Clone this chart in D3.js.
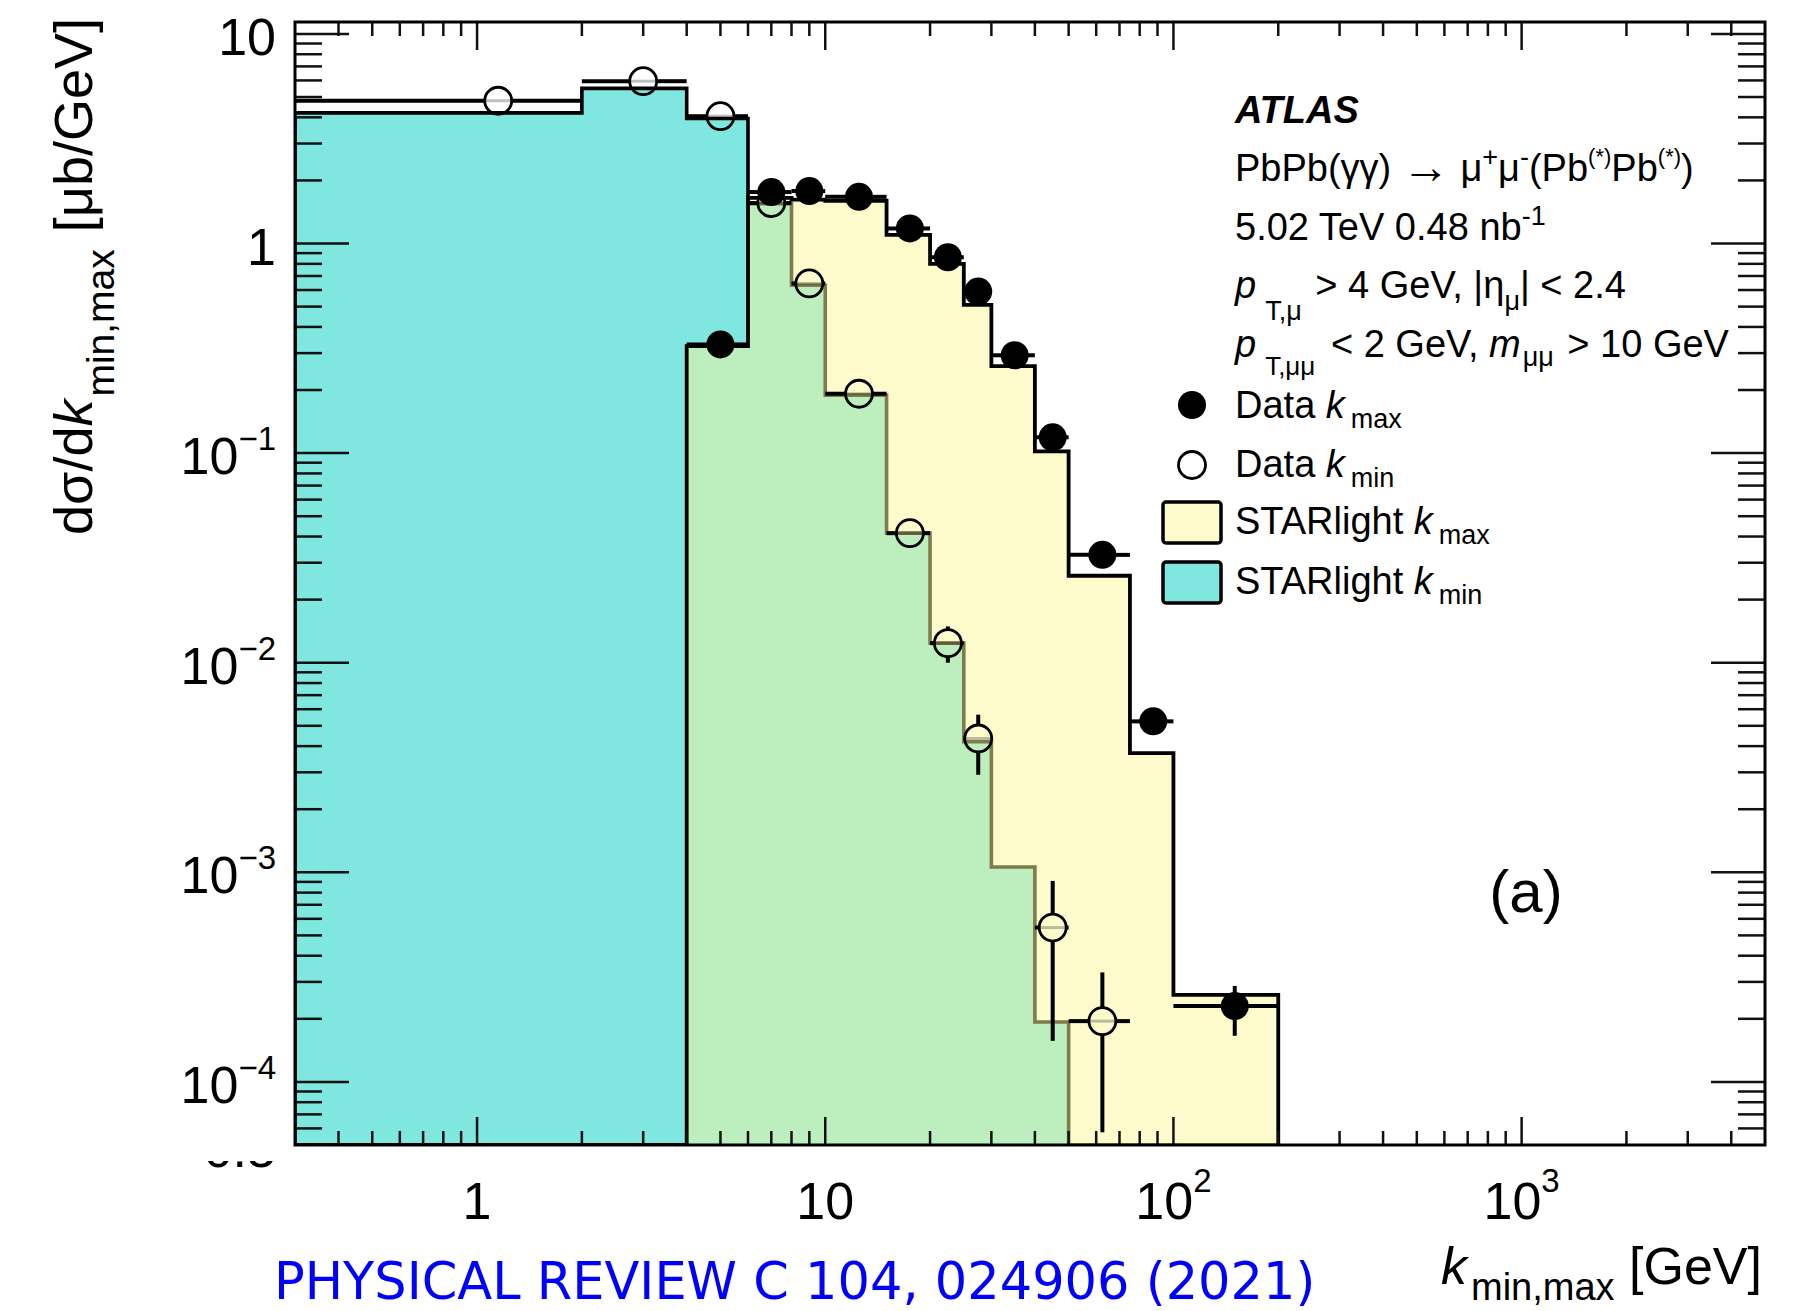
<!DOCTYPE html>
<html>
<head>
<meta charset="utf-8">
<title>dσ/dk_min,max</title>
<script src="https://cdn.jsdelivr.net/npm/d3@7/dist/d3.min.js"></script>
<style>
  html, body { margin: 0; padding: 0; background: #ffffff; }
  svg { display: block; }
</style>
</head>
<body>
<script>
// ---- Binning in k [GeV] ----
const binEdges = [0.3, 2, 4, 6, 8, 10, 15, 20, 25, 30, 40, 50, 75, 100, 200];

// ---- STARlight predictions, dσ/dk [μb/GeV] per bin ----
const starlightKmin = [4.2, 5.5, 3.95, 1.55, 0.632, 0.189, 0.0415, 0.0124, 0.0042, 0.00106, 0.000193, 0, 0, 0];
const starlightKmax = [0, 0, 0.324, 1.65, 1.62, 1.60, 1.10, 0.80, 0.51, 0.26, 0.102, 0.026, 0.0037, 0.00026];

// ---- Measured cross-sections per bin (null = no entry) ----
const dataKmax      = [null, null, 0.33, 1.76, 1.78, 1.67, 1.18, 0.86, 0.59, 0.293, 0.119, 0.0327, 0.00525, 0.00023];
const dataKmaxErrLo = [null, null, 0.02, 0.06, 0.06, 0.05, 0.04, 0.03, 0.03, 0.02, 0.01, 0.004, 0.0006, 0.000064];
const dataKmaxErrHi = [null, null, 0.02, 0.06, 0.06, 0.05, 0.04, 0.03, 0.03, 0.02, 0.01, 0.004, 0.0006, 0.000057];
const dataKmin      = [4.8, 5.95, 4.05, 1.56, 0.645, 0.192, 0.0415, 0.0124, 0.00435, null, 0.000545, 0.000195, null, null];
const dataKminErrLo = [0.1, 0.15, 0.1, 0.05, 0.03, 0.01, 0.002, 0.0024, 0.00143, null, 0.000388, 0.0001375, null, null];
const dataKminErrHi = [0.1, 0.15, 0.1, 0.05, 0.03, 0.01, 0.002, 0.0025, 0.0013, null, 0.000365, 0.000138, null, null];

// ---- Axis ticks and labels ([base, exponent]) ----
const xMajorTicks = [1, 10, 100, 1000];
const xTickLabels = [["1", ""], ["10", ""], ["10", "2"], ["10", "3"]];
const yMajorTicks = [1e-4, 1e-3, 1e-2, 1e-1, 1, 10];
const yTickLabels = [["10", "\u22124"], ["10", "\u22123"], ["10", "\u22122"], ["10", "\u22121"], ["1", ""], ["10", ""]];

// ---- Layout / style ----
const W = 1797, H = 1311;
const F = { left: 295, right: 1765, top: 22, bottom: 1145 };
const FONT = "'Liberation Sans', Arial, Helvetica, sans-serif";
const CYAN = "#7fe6e0";
const YELLOW = "rgb(251,245,153)";
const YELLOW_ALPHA = 0.5;

const x = d3.scaleLog().domain([0.3, 5000]).range([F.left, F.right]);
const y = d3.scaleLog().domain([5e-5, 11.4]).range([F.bottom, F.top]);
const yPos = v => (v > 0 ? Math.min(y(v), F.bottom) : F.bottom);

const svg = d3.select("body").append("svg")
  .attr("width", W).attr("height", H)
  .attr("viewBox", `0 0 ${W} ${H}`)
  .style("font-family", FONT);

svg.append("rect").attr("width", W).attr("height", H).attr("fill", "#fff");

const defs = svg.append("defs");
defs.append("clipPath").attr("id", "plotClip")
  .append("rect")
  .attr("x", F.left).attr("y", F.top)
  .attr("width", F.right - F.left).attr("height", F.bottom - F.top);
defs.append("clipPath").attr("id", "lowerLabelClip")
  .append("rect").attr("x", 150).attr("y", 1161).attr("width", 150).attr("height", 20);

// Text helper: segments with optional italic / size / baseline shift
function rich(parent, segs, attrs) {
  const t = parent.append("text");
  Object.entries(attrs).forEach(([k, v]) => t.attr(k, v));
  let cur = 0;
  segs.forEach(s => {
    const shift = s.shift || 0;
    const ts = t.append("tspan").text(s.t).attr("dy", shift - cur);
    if (s.dx) ts.attr("dx", s.dx);
    if (s.size) ts.attr("font-size", s.size);
    if (s.it) ts.attr("font-style", "italic");
    if (s.bold) ts.attr("font-weight", "bold");
    cur = shift;
  });
  return t;
}

// ---- Histograms ----
function stepPoints(vals) {
  const pts = [[x(binEdges[0]), F.bottom]];
  vals.forEach((v, i) => {
    pts.push([x(binEdges[i]), yPos(v)]);
    pts.push([x(binEdges[i + 1]), yPos(v)]);
  });
  pts.push([x(binEdges[binEdges.length - 1]), F.bottom]);
  return pts;
}
const line = d3.line();
const plot = svg.append("g").attr("clip-path", "url(#plotClip)");

plot.append("path").attr("d", line(stepPoints(starlightKmin)) + "Z")
  .attr("fill", CYAN).attr("stroke", "none");
plot.append("path").attr("d", line(stepPoints(starlightKmin)))
  .attr("fill", "none").attr("stroke", "#000").attr("stroke-width", 3.6);

plot.append("path").attr("d", line(stepPoints(starlightKmax)) + "Z")
  .attr("fill", YELLOW).attr("fill-opacity", YELLOW_ALPHA).attr("stroke", "none");
plot.append("path").attr("d", line(stepPoints(starlightKmax)))
  .attr("fill", "none").attr("stroke", "#000").attr("stroke-width", 3.8);

// ---- Data points with error bars ----
function drawData(vals, lo, hi, open) {
  const g = plot.append("g");
  const r = open ? 13.5 : 14;
  vals.forEach((v, i) => {
    if (v == null) return;
    const cx = x((binEdges[i] + binEdges[i + 1]) / 2);
    const cy = y(v);
    const xl = x(binEdges[i]), xr = x(binEdges[i + 1]);
    const yt = y(v + hi[i]);
    const yb = yPos(v - lo[i]);
    const gap = open ? r : 0;
    const segs = [];
    if (cx - gap > xl) segs.push([xl, cy, cx - gap, cy]);
    if (xr > cx + gap) segs.push([cx + gap, cy, xr, cy]);
    if (cy - gap > yt) segs.push([cx, yt, cx, cy - gap]);
    if (yb > cy + gap) segs.push([cx, cy + gap, cx, yb]);
    segs.forEach(s => g.append("line")
      .attr("x1", s[0]).attr("y1", s[1]).attr("x2", s[2]).attr("y2", s[3])
      .attr("stroke", "#000").attr("stroke-width", 4));
    if (open) {
      g.append("line")
        .attr("x1", cx - r).attr("y1", cy).attr("x2", cx + r).attr("y2", cy)
        .attr("stroke", "#000").attr("stroke-opacity", 0.25).attr("stroke-width", 3);
      g.append("circle").attr("cx", cx).attr("cy", cy).attr("r", r)
        .attr("fill", "none").attr("stroke", "#000").attr("stroke-width", 2.8);
    } else {
      g.append("circle").attr("cx", cx).attr("cy", cy).attr("r", r).attr("fill", "#000");
    }
  });
}
drawData(dataKmin, dataKminErrLo, dataKminErrHi, true);
drawData(dataKmax, dataKmaxErrLo, dataKmaxErrHi, false);

// ---- Frame and ticks (all four sides) ----
const axes = svg.append("g").attr("stroke", "#111").attr("stroke-width", 2.5);
const xMinor = [], yMinor = [];
for (let e = -1; e <= 3; e++) for (let m = 2; m <= 9; m++) {
  const v = m * Math.pow(10, e);
  if (v > 0.3001 && v < 4999) xMinor.push(v);
}
for (let e = -5; e <= 1; e++) for (let m = 2; m <= 9; m++) {
  const v = m * Math.pow(10, e);
  if (v > 5.0001e-5 && v < 11.4) yMinor.push(v);
}
const xt = [...xMajorTicks.map(v => [v, 28]), ...xMinor.map(v => [v, 14])];
const yt = [...yMajorTicks.map(v => [v, 54]), ...yMinor.map(v => [v, 27])];
xt.forEach(([v, len]) => {
  const px = x(v);
  axes.append("line").attr("x1", px).attr("x2", px).attr("y1", F.bottom).attr("y2", F.bottom - len);
  axes.append("line").attr("x1", px).attr("x2", px).attr("y1", F.top).attr("y2", F.top + len);
});
yt.forEach(([v, len]) => {
  const py = y(v);
  axes.append("line").attr("y1", py).attr("y2", py).attr("x1", F.left).attr("x2", F.left + len);
  axes.append("line").attr("y1", py).attr("y2", py).attr("x1", F.right).attr("x2", F.right - len);
});
svg.append("rect")
  .attr("x", F.left).attr("y", F.top)
  .attr("width", F.right - F.left).attr("height", F.bottom - F.top)
  .attr("fill", "none").attr("stroke", "#000").attr("stroke-width", 3);

// ---- Tick labels ----
const labels = svg.append("g").attr("fill", "#000");
xMajorTicks.forEach((v, i) => {
  const [base, exp] = xTickLabels[i];
  const segs = [{ t: base }];
  if (exp) segs.push({ t: exp, size: 33, shift: -27 });
  rich(labels, segs, { x: x(v), y: 1219, "font-size": 52, "text-anchor": "middle" });
});
yMajorTicks.forEach((v, i) => {
  const [base, exp] = yTickLabels[i];
  const segs = [{ t: base }];
  if (exp) segs.push({ t: exp, size: 33, shift: -24 });
  rich(labels, segs, { x: 276, y: y(v) + 21, "font-size": 52, "text-anchor": "end" });
});
// partially hidden label just under the frame
labels.append("text").attr("clip-path", "url(#lowerLabelClip)")
  .attr("x", 276).attr("y", 1167).attr("font-size", 52).attr("text-anchor", "end").text("0.5");

// ---- Axis titles ----
rich(svg.append("g").attr("transform", "translate(92,18) rotate(-90)"), [
  { t: "d\u03c3/d" }, { t: "k", it: true },
  { t: "min,max", size: 39, shift: 22, dx: 3 },
  { t: " [\u03bcb/GeV]", dx: 2 }
], { x: 0, y: 0, "font-size": 54, "text-anchor": "end" });

rich(svg, [
  { t: "k", it: true },
  { t: "min,max", size: 38, shift: 16, dx: 4 },
  { t: " [GeV]" }
], { x: 1762, y: 1284, "font-size": 52, "text-anchor": "end" });

// ---- Annotation block ----
const note = svg.append("g").attr("fill", "#000");
const NX = 1235, NS = 38, SS = 27;
rich(note, [{ t: "ATLAS", it: true, bold: true }], { x: NX, y: 123, "font-size": NS });
rich(note, [
  { t: "PbPb(\u03b3\u03b3) " }, { t: "\u2192", size: 48, shift: 2 }, { t: " \u03bc", shift: 0 },
  { t: "+", size: SS, shift: -15 },
  { t: "\u03bc" }, { t: "-", size: SS, shift: -15 },
  { t: "(Pb" }, { t: "(*)", size: 22, shift: -17 },
  { t: "Pb" }, { t: "(*)", size: 22, shift: -17 }, { t: ")" }
], { x: NX, y: 181, "font-size": NS });
rich(note, [{ t: "5.02 TeV 0.48 nb" }, { t: "-1", size: SS, shift: -15 }],
  { x: NX, y: 240, "font-size": NS });
rich(note, [
  { t: "p", it: true }, { t: "T,\u03bc", size: SS, shift: 22, dx: 9 },
  { t: " > 4 GeV, |\u03b7", dx: 3 }, { t: "\u03bc", size: SS, shift: 12 }, { t: "| < 2.4" }
], { x: NX, y: 298, "font-size": NS });
rich(note, [
  { t: "p", it: true }, { t: "T,\u03bc\u03bc", size: 26, shift: 18, dx: 9 },
  { t: " < 2 GeV, ", dx: 5 }, { t: "m", it: true }, { t: "\u03bc\u03bc", size: SS, shift: 9, dx: 2 },
  { t: " > 10 GeV", dx: 3 }
], { x: NX, y: 357, "font-size": NS });

// ---- Legend ----
const leg = svg.append("g");
leg.append("circle").attr("cx", 1192).attr("cy", 405).attr("r", 14).attr("fill", "#000");
rich(leg, [{ t: "Data " }, { t: "k", it: true }, { t: "max", size: SS, shift: 10, dx: 6 }],
  { x: NX, y: 418, "font-size": NS });
leg.append("circle").attr("cx", 1192).attr("cy", 465).attr("r", 13.5)
  .attr("fill", "none").attr("stroke", "#000").attr("stroke-width", 2.8);
rich(leg, [{ t: "Data " }, { t: "k", it: true }, { t: "min", size: SS, shift: 10, dx: 6 }],
  { x: NX, y: 477, "font-size": NS });
leg.append("rect").attr("x", 1163).attr("y", 502).attr("width", 58).attr("height", 41).attr("rx", 3)
  .attr("fill", "#fff").attr("stroke", "none");
leg.append("rect").attr("x", 1163).attr("y", 502).attr("width", 58).attr("height", 41).attr("rx", 3)
  .attr("fill", YELLOW).attr("fill-opacity", YELLOW_ALPHA).attr("stroke", "#000").attr("stroke-width", 3.5);
rich(leg, [{ t: "STARlight " }, { t: "k", it: true }, { t: "max", size: SS, shift: 10, dx: 6 }],
  { x: NX, y: 534, "font-size": NS });
leg.append("rect").attr("x", 1163).attr("y", 562).attr("width", 58).attr("height", 41).attr("rx", 3)
  .attr("fill", CYAN).attr("stroke", "#000").attr("stroke-width", 3.5);
rich(leg, [{ t: "STARlight " }, { t: "k", it: true }, { t: "min", size: SS, shift: 10, dx: 6 }],
  { x: NX, y: 594, "font-size": NS });

// ---- Panel tag ----
svg.append("text").attr("x", 1526).attr("y", 912).attr("font-size", 60)
  .attr("text-anchor", "middle").text("(a)");

// ---- Journal reference ----
svg.append("text").attr("x", 274).attr("y", 1299)
  .attr("font-family", "'DejaVu Sans', Verdana, sans-serif")
  .attr("font-size", 51).attr("fill", "#0000ff")
  .text("PHYSICAL REVIEW C 104, 024906 (2021)");
</script>
</body>
</html>
